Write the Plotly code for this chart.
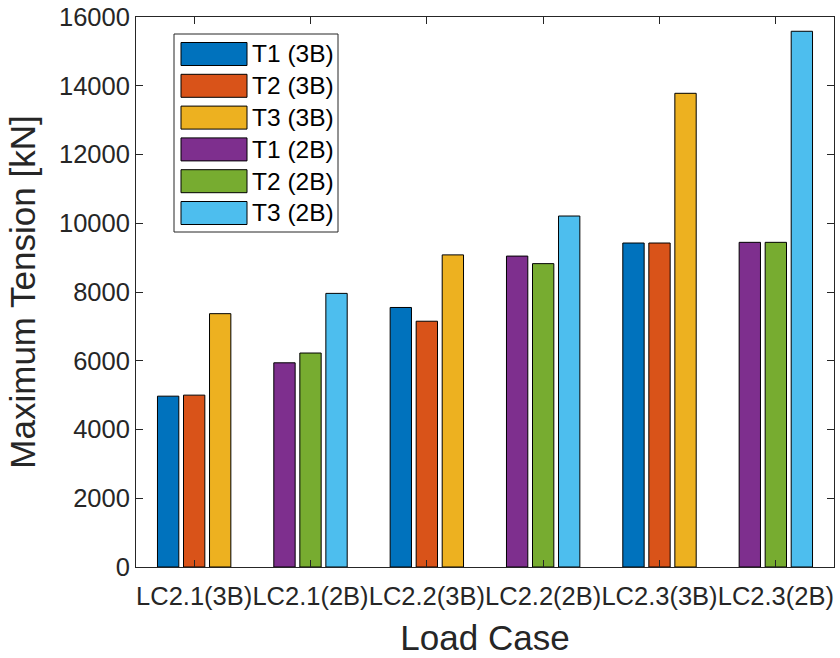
import plotly.graph_objects as go

categories = ["LC2.1(3B)", "LC2.1(2B)", "LC2.2(3B)", "LC2.2(2B)", "LC2.3(3B)", "LC2.3(2B)"]
cases_3b = ["LC2.1(3B)", "LC2.2(3B)", "LC2.3(3B)"]
cases_2b = ["LC2.1(2B)", "LC2.2(2B)", "LC2.3(2B)"]

t1_3b = [4970, 7550, 9425]
t2_3b = [5000, 7150, 9425]
t3_3b = [7370, 9080, 13780]
t1_2b = [5940, 9045, 9445]
t2_2b = [6225, 8825, 9445]
t3_2b = [7960, 10210, 15585]

series_names = ["T1 (3B)", "T2 (3B)", "T3 (3B)", "T1 (2B)", "T2 (2B)", "T3 (2B)"]
series_colors = ["#0072BD", "#D95319", "#EDB120", "#7E2F8E", "#77AC30", "#4DBEEE"]
series_x = [cases_3b, cases_3b, cases_3b, cases_2b, cases_2b, cases_2b]
series_y = [t1_3b, t2_3b, t3_3b, t1_2b, t2_2b, t3_2b]
series_group = ["T1", "T2", "T3", "T1", "T2", "T3"]

y_ticks = [0, 2000, 4000, 6000, 8000, 10000, 12000, 14000, 16000]

FONT = "Liberation Sans, Arial, Helvetica, sans-serif"
AX = "#262626"

fig = go.Figure()
for name, color, xs, ys, grp in zip(series_names, series_colors, series_x, series_y, series_group):
    fig.add_trace(go.Bar(
        x=xs, y=ys, name=name, offsetgroup=grp,
        marker=dict(color=color, line=dict(color="#000000", width=1)),
        showlegend=False,
    ))

# Plot area in pixels
W, H = 840, 658
L, R, T, B = 136, 6, 17, 91
pw, ph = W - L - R, H - T - B

def px2x(px):
    return (px - L) / pw

def px2y(py):
    return (H - B - py) / ph

shapes = []
annotations = []
# legend box
shapes.append(dict(type="rect", xref="paper", yref="paper",
                   x0=px2x(174), x1=px2x(338), y0=px2y(232), y1=px2y(34),
                   line=dict(color="#262626", width=1), fillcolor="white", layer="above"))
row0, dy = 54.0, 31.8
for i, (name, color) in enumerate(zip(series_names, series_colors)):
    cy = row0 + i * dy
    shapes.append(dict(type="rect", xref="paper", yref="paper",
                       x0=px2x(181), x1=px2x(247), y0=px2y(cy + 11.5), y1=px2y(cy - 11.5),
                       line=dict(color="#000000", width=1), fillcolor=color, layer="above"))
    annotations.append(dict(xref="paper", yref="paper", x=px2x(250), y=px2y(cy),
                            xanchor="left", yanchor="middle", text=name, showarrow=False,
                            font=dict(family=FONT, size=24.5, color="#000000")))

fig.update_layout(
    width=W, height=H,
    margin=dict(l=L, r=R, t=T, b=B, pad=0, autoexpand=False),
    paper_bgcolor="white", plot_bgcolor="white",
    barmode="group", bargap=0.329, bargroupgap=0.18,
    font=dict(family=FONT, color=AX),
    shapes=shapes, annotations=annotations,
    showlegend=False,
)
fig.update_xaxes(
    type="category", categoryorder="array", categoryarray=categories,
    range=[-0.5, 5.5], tickangle=0, automargin=False,
    showline=True, linecolor=AX, linewidth=1, mirror="ticks",
    ticks="inside", ticklen=7, tickcolor=AX, tickwidth=1,
    showgrid=False, zeroline=False, ticklabelstandoff=6,
    tickfont=dict(family=FONT, size=25.5, color=AX),
    title=dict(text="Load Case", font=dict(family=FONT, size=35, color=AX), standoff=16),
)
fig.update_yaxes(
    range=[0, 16000], tickvals=y_ticks, ticktext=[str(v) for v in y_ticks],
    automargin=False,
    showline=True, linecolor=AX, linewidth=1, mirror="ticks",
    ticks="inside", ticklen=7, tickcolor=AX, tickwidth=1,
    showgrid=False, zeroline=False,
    tickfont=dict(family=FONT, size=25.5, color=AX),
    title=dict(text="Maximum Tension [kN]", font=dict(family=FONT, size=35, color=AX), standoff=12),
)

fig.write_html("out.html")
